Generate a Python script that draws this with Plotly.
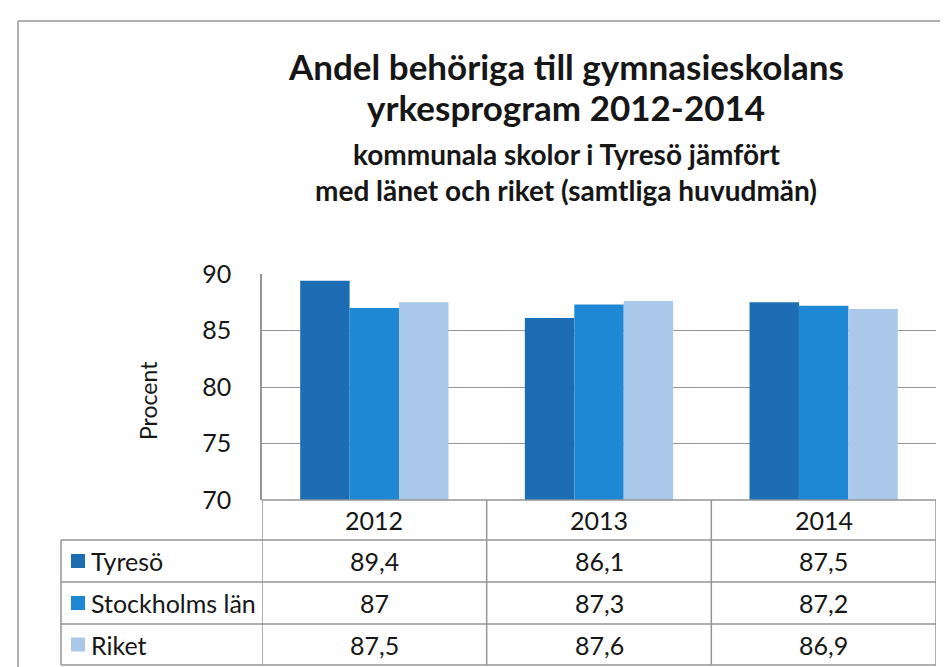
import plotly.graph_objects as go

years = ["2012", "2013", "2014"]
series_names = ["Tyresö", "Stockholms län", "Riket"]
tyreso = [89.4, 86.1, 87.5]
stockholm = [87.0, 87.3, 87.2]
riket = [87.5, 87.6, 86.9]
values = [tyreso, stockholm, riket]
colors = ["#1c6db3", "#1f88d5", "#a9c8ea"]
y_ticks = [70, 75, 80, 85, 90]

W, H = 948, 667
L, R, T, B = 254, 20, 266, 175
PW, PH = W - L - R, H - T - B

def px(x):
    return (x - L) / PW

def py(y):
    return (T + PH - y) / PH

FONT = "Lato"
TXT = "#161616"
LINE = "#959595"

fig = go.Figure()
for name, vals, col in zip(series_names, values, colors):
    fig.add_trace(go.Bar(x=years, y=vals, name=name, marker=dict(color=col, line=dict(width=0))))

shapes = []
ann = []

row_edges = [492, 532, 574, 616, 657]
row_centers = [(row_edges[i] + row_edges[i + 1]) / 2 for i in range(4)]
for i, yy in enumerate(row_edges):
    x0 = L if i == 0 else 53
    shapes.append(dict(type="line", xref="paper", yref="paper", x0=px(x0), x1=px(L + PW),
                       y0=py(yy), y1=py(yy), line=dict(color=LINE, width=1.5)))
for k in range(len(years) + 1):
    shapes.append(dict(type="line", xref="x", yref="paper", x0=k - 0.5, x1=k - 0.5,
                       y0=py(row_edges[0]), y1=py(row_edges[-1]), line=dict(color=LINE, width=1.5)))
shapes.append(dict(type="line", xref="paper", yref="paper", x0=px(53), x1=px(53),
                   y0=py(row_edges[1]), y1=py(row_edges[-1]), line=dict(color=LINE, width=1.5)))

TS = 25
for i, yr in enumerate(years):
    ann.append(dict(x=i, xref="x", y=py(row_centers[0]), yref="paper", text=yr, showarrow=False,
                    font=dict(family=FONT, size=TS, color=TXT), xanchor="center", yanchor="middle"))
for r, (name, vals, col) in enumerate(zip(series_names, values, colors)):
    yc = row_centers[r + 1]
    shapes.append(dict(type="rect", xref="paper", yref="paper", x0=px(63), x1=px(77),
                       y0=py(yc - 7), y1=py(yc + 7), fillcolor=col, line=dict(width=0)))
    ann.append(dict(x=px(81), xref="paper", y=py(yc), yref="paper", text=name, showarrow=False,
                    font=dict(family=FONT, size=TS, color=TXT), xanchor="left", yanchor="middle"))
    for i, v in enumerate(vals):
        ann.append(dict(x=i, xref="x", y=py(yc), yref="paper", text=f"{v:g}".replace(".", ","),
                        showarrow=False, font=dict(family=FONT, size=TS, color=TXT),
                        xanchor="center", yanchor="middle"))

shapes.append(dict(type="line", xref="paper", yref="paper", x0=px(10), x1=px(960), y0=py(13), y1=py(13),
                   line=dict(color="#b0b0b0", width=2)))
shapes.append(dict(type="line", xref="paper", yref="paper", x0=px(10), x1=px(10), y0=py(13), y1=py(680),
                   line=dict(color="#b0b0b0", width=2)))

title_lines = [
    ("Andel behöriga till gymnasieskolans", 35, 58),
    ("yrkesprogram 2012-2014", 35, 99),
    ("kommunala skolor i Tyresö jämfört", 28, 146),
    ("med länet och riket (samtliga huvudmän)", 28, 182),
]
for text, size, yc in title_lines:
    ann.append(dict(x=px(558), xref="paper", y=py(yc), yref="paper", text=f"<b>{text}</b>", showarrow=False,
                    font=dict(family=FONT, size=size, color=TXT), xanchor="center", yanchor="middle"))

ann.append(dict(x=px(140), xref="paper", y=py(393), yref="paper", text="Procent", textangle=-90,
                showarrow=False, font=dict(family=FONT, size=23, color=TXT), xanchor="center", yanchor="middle"))

fig.update_layout(
    width=W, height=H,
    margin=dict(l=L, r=R, t=T, b=B),
    paper_bgcolor="white", plot_bgcolor="white",
    barmode="group", bargap=0.34, bargroupgap=0,
    showlegend=False,
    shapes=shapes, annotations=ann,
    xaxis=dict(type="category", showticklabels=False, showgrid=False, showline=False, zeroline=False,
               range=[-0.5, 2.5]),
    yaxis=dict(range=[70, 90], tickvals=y_ticks, ticktext=[str(t) for t in y_ticks],
               showgrid=True, gridcolor=LINE, gridwidth=1.2, showline=True, linecolor=LINE, linewidth=1.5,
               zeroline=False, ticks="outside", ticklen=24, tickcolor="rgba(0,0,0,0)",
               tickfont=dict(family=FONT, size=25, color=TXT)),
)

fig.write_html("out.html")
